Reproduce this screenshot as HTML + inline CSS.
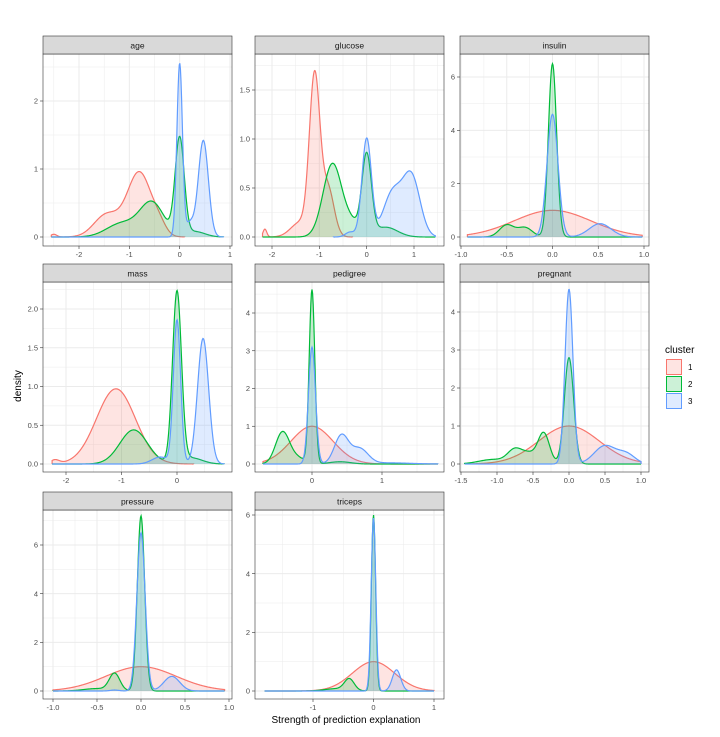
<!DOCTYPE html>
<html><head><meta charset="utf-8"><style>
html,body{margin:0;padding:0;background:#fff;width:720px;height:737px;overflow:hidden;}
svg{display:block;font-family:"Liberation Sans",sans-serif;}
</style></head><body>
<svg id="s" width="720" height="737" xmlns="http://www.w3.org/2000/svg"></svg>
<script>
const C={r:"#F8766D",g:"#00BA38",b:"#619CFF"};
const panels=[
 {n:"age",L:43,R:232,T:36,B:246,xa:[-2,79],xb:[1,230],ya:[0,237],yb:[2,101],xt:[-2,-1,0,1],yt:[0,1,2],yl:v=>""+v,xl:v=>""+v,rng:[-2.55,0.87],
  r:[[0.04,-2.5,0.06],[0.33,-1.45,0.25],[0.95,-0.8,0.24],[0.12,-0.4,0.13]],rr:[-2.55,0.1],
  g:[[0.2,-1.15,0.3],[0.5,-0.55,0.24],[1.42,0,0.09],[0.08,0.3,0.2]],
  b:[[2.55,0,0.055],[1.42,0.47,0.1],[0.2,0.2,0.08]]},
 {n:"glucose",L:255,R:444,T:36,B:246,xa:[-2,272],xb:[1,414],ya:[0,237],yb:[1.5,90],xt:[-2,-1,0,1],yt:[0,0.5,1,1.5],yl:v=>v.toFixed(1),xl:v=>""+v,rng:[-2.2,1.45],
  r:[[0.08,-2.15,0.04],[1.6,-1.1,0.11],[0.5,-0.82,0.13],[0.15,-1.4,0.2]],rr:[-2.2,-0.3],
  g:[[0.75,-0.72,0.2],[0.82,0,0.1],[0.12,-0.3,0.15],[0.1,0.4,0.25]],
  b:[[1.0,0,0.1],[0.45,0.55,0.2],[0.6,0.95,0.18],[0.05,-0.35,0.1]],br:[-0.7,1.45]},
 {n:"insulin",L:460,R:649,T:36,B:246,xa:[-1,461],xb:[1,644],ya:[0,237],yb:[6,77],xt:[-1,-0.5,0,0.5,1],yt:[0,2,4,6],yl:v=>""+v,xl:v=>v.toFixed(1),rng:[-0.93,0.98],
  r:[[1.0,0,0.42]],
  g:[[6.5,0,0.045],[0.45,-0.5,0.08],[0.35,-0.3,0.08]],
  b:[[4.6,0,0.06],[0.5,0.52,0.12]]},
 {n:"mass",L:43,R:232,T:264,B:472,xa:[-2,66],xb:[0,177],ya:[0,464],yb:[2,309],xt:[-2,-1,0],yt:[0,0.5,1,1.5,2],yl:v=>v.toFixed(1),xl:v=>""+v,rng:[-2.25,0.85],
  r:[[0.97,-1.1,0.35],[0.05,-2.2,0.08]],rr:[-2.25,0.3],
  g:[[0.44,-0.78,0.25],[2.2,0,0.08],[0.08,0.25,0.2]],
  b:[[1.85,0,0.065],[1.62,0.47,0.1],[0.09,-0.3,0.15]]},
 {n:"pedigree",L:255,R:444,T:264,B:472,xa:[0,312],xb:[1,382],ya:[0,464],yb:[4,313],xt:[0,1],yt:[0,1,2,3,4],yl:v=>""+v,xl:v=>""+v,rng:[-0.7,1.8],
  r:[[1.0,0,0.3]],
  g:[[4.6,0,0.04],[0.85,-0.42,0.1],[0.15,-0.2,0.1],[0.06,0.4,0.15]],
  b:[[3.1,0,0.05],[0.75,0.42,0.1],[0.4,0.68,0.12],[0.03,1.1,0.3]]},
 {n:"pregnant",L:460,R:649,T:264,B:472,xa:[-1.5,461],xb:[1,641],ya:[0,464],yb:[4,312],xt:[-1.5,-1,-0.5,0,0.5,1],yt:[0,1,2,3,4],yl:v=>""+v,xl:v=>v.toFixed(1),rng:[-1.45,1.0],
  r:[[1.0,0,0.42]],
  g:[[2.8,0,0.065],[0.8,-0.35,0.08],[0.35,-0.75,0.1],[0.12,-1.05,0.2],[0.25,-0.55,0.1]],
  b:[[4.6,0,0.055],[0.48,0.5,0.15],[0.25,0.8,0.12]]},
 {n:"pressure",L:43,R:232,T:492,B:699,xa:[-1,53],xb:[1,229],ya:[0,691],yb:[6,545],xt:[-1,-0.5,0,0.5,1],yt:[0,2,4,6],yl:v=>""+v,xl:v=>v.toFixed(1),rng:[-1,0.95],
  r:[[1.0,0,0.4]],
  g:[[7.2,0,0.042],[0.7,-0.3,0.06],[0.1,-0.5,0.15]],
  b:[[6.5,0,0.047],[0.6,0.35,0.09],[0.04,-0.3,0.05]]},
 {n:"triceps",L:255,R:444,T:492,B:699,xa:[-1,313],xb:[1,434],ya:[0,691],yb:[6,515],xt:[-1,0,1],yt:[0,2,4,6],yl:v=>""+v,xl:v=>""+v,rng:[-1.8,1.0],
  r:[[1.0,0,0.35]],
  g:[[6.0,0,0.035],[0.38,-0.4,0.08],[0.08,-0.6,0.2]],
  b:[[5.9,0,0.038],[0.72,0.38,0.07]]}
];
let h="";
function f(c,x){let s=0;for(const[a,m,sd]of c)s+=a*Math.exp(-(x-m)*(x-m)/(2*sd*sd));return s;}
for(const p of panels){
 const X=v=>p.xa[1]+(v-p.xa[0])*(p.xb[1]-p.xa[1])/(p.xb[0]-p.xa[0]);
 const Y=v=>p.ya[1]+(v-p.ya[0])*(p.yb[1]-p.ya[1])/(p.yb[0]-p.ya[0]);
 const st=p.T+18;
 h+=`<rect x="${p.L}" y="${st}" width="${p.R-p.L}" height="${p.B-st}" fill="#fff"/>`;
 h+=`<clipPath id="c${p.n}"><rect x="${p.L}" y="${st}" width="${p.R-p.L}" height="${p.B-st}"/></clipPath><g clip-path="url(#c${p.n})">`;
 const dx=p.xt[1]-p.xt[0],dy=p.yt[1]-p.yt[0];
 for(let v=p.xt[0]-dx*3;v<=p.xt[p.xt.length-1]+dx*3;v+=dx/2){const x=X(v);h+=`<line x1="${x}" x2="${x}" y1="${st}" y2="${p.B}" stroke="#ebebeb" stroke-width="${Math.abs(((v-p.xt[0])/dx)%1)>0.1?0.5:1}"/>`;}
 for(let v=p.yt[0]-dy*2;v<=p.yt[p.yt.length-1]+dy*3;v+=dy/2){const y=Y(v);h+=`<line y1="${y}" y2="${y}" x1="${p.L}" x2="${p.R}" stroke="#ebebeb" stroke-width="${Math.abs(((v-p.yt[0])/dy)%1)>0.1?0.5:1}"/>`;}
 for(const k of["r","g","b"]){
  const rg=p[k+"r"]||p.rng;let pts=[];
  for(let i=0;i<=300;i++){const x=rg[0]+(rg[1]-rg[0])*i/300;pts.push(X(x).toFixed(2)+","+Y(f(p[k],x)).toFixed(2));}
  const y0=Y(0);
  h+=`<path d="M${X(rg[0])},${y0}L${pts.join("L")}L${X(rg[1])},${y0}Z" fill="${C[k]}" fill-opacity="0.2"/>`;
  h+=`<path d="M${X(rg[0])},${y0}L${pts.join("L")}L${X(rg[1])},${y0}" fill="none" stroke="${C[k]}" stroke-width="1.2"/>`;
 }
 h+=`</g><rect x="${p.L}" y="${st}" width="${p.R-p.L}" height="${p.B-st}" fill="none" stroke="#333" stroke-width="0.6"/>`;
 h+=`<rect x="${p.L}" y="${p.T}" width="${p.R-p.L}" height="18" fill="#d9d9d9" stroke="#333" stroke-width="0.6"/>`;
 h+=`<text x="${(p.L+p.R)/2}" y="${p.T+12.5}" font-size="8.5" fill="#1a1a1a" text-anchor="middle">${p.n}</text>`;
 for(const v of p.xt){const x=X(v);h+=`<line x1="${x}" x2="${x}" y1="${p.B}" y2="${p.B+3}" stroke="#333" stroke-width="0.6"/><text x="${x}" y="${p.B+11}" font-size="7.5" fill="#4d4d4d" text-anchor="middle">${p.xl(v)}</text>`;}
 for(const v of p.yt){const y=Y(v);h+=`<line x1="${p.L-3}" x2="${p.L}" y1="${y}" y2="${y}" stroke="#333" stroke-width="0.6"/><text x="${p.L-5}" y="${y+2.7}" font-size="7.5" fill="#4d4d4d" text-anchor="end">${p.yl(v)}</text>`;}
}
h+=`<text x="346" y="723" font-size="10" fill="#000" text-anchor="middle">Strength of prediction explanation</text>`;
h+=`<text transform="translate(21,386) rotate(-90)" font-size="10" fill="#000" text-anchor="middle">density</text>`;
h+=`<text x="665" y="353" font-size="10" fill="#000">cluster</text>`;
[["r","1"],["g","2"],["b","3"]].forEach(([k,l],i)=>{const y=359+i*17;
 h+=`<rect x="666" y="${y}" width="16" height="16" fill="#fff"/><rect x="666.5" y="${y+0.5}" width="15" height="15" fill="${C[k]}" fill-opacity="0.2" stroke="${C[k]}" stroke-width="1"/><text x="688" y="${y+11}" font-size="8" fill="#000">${l}</text>`;});
document.getElementById("s").innerHTML=h;
</script>
</body></html>
